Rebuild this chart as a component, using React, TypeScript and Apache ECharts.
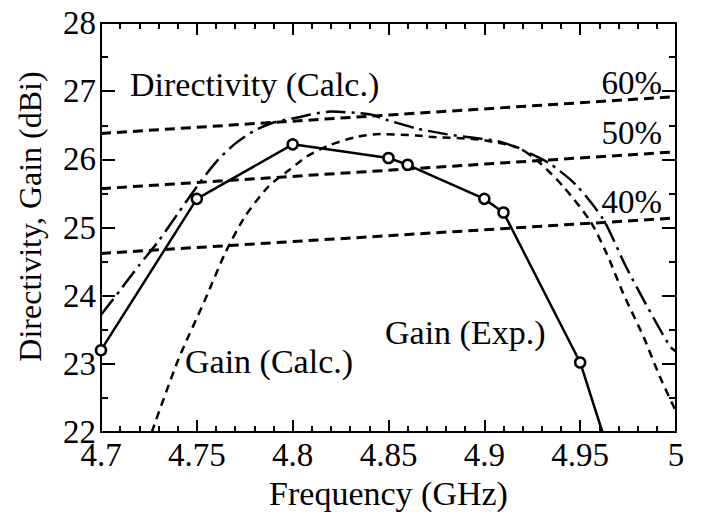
import React, { useEffect, useRef } from "react";
import * as echarts from "echarts";

const xTicks = [4.7, 4.75, 4.8, 4.85, 4.9, 4.95, 5];
const yTicks = [22, 23, 24, 25, 26, 27, 28];

// Gain (Exp.) measured points
const gainExpFreq = [4.7, 4.75, 4.8, 4.85, 4.86, 4.9, 4.91, 4.95, 4.9616];
const gainExpVal = [23.2, 25.42, 26.22, 26.02, 25.92, 25.42, 25.22, 23.02, 22.0];
const gainExpMarked = [true, true, true, true, true, true, true, true, false];

// Gain (Calc.)
const gainCalcFreq = [4.7265, 4.7403, 4.7543, 4.7647, 4.7751, 4.7873, 4.7985, 4.8073, 4.8195, 4.8334, 4.8456, 4.8647, 4.8717, 4.894, 4.9, 4.9169, 4.9273, 4.9412, 4.9551, 4.9638, 4.9725, 4.983, 4.9916, 5.0];
const gainCalcVal = [22.0, 23.06, 23.94, 24.62, 25.16, 25.6, 25.85, 26.04, 26.21, 26.33, 26.37, 26.35, 26.33, 26.3, 26.28, 26.18, 25.99, 25.6, 25.1, 24.62, 24.03, 23.4, 22.81, 22.3];

// Directivity (Calc.)
const dirFreq = [4.7, 4.71, 4.72, 4.73, 4.74, 4.75, 4.76, 4.77, 4.78, 4.79, 4.8, 4.82, 4.84, 4.85, 4.865, 4.88, 4.89, 4.908, 4.922, 4.934, 4.948, 4.962, 4.974, 4.985, 4.997, 5.0];
const dirVal = [23.72, 24.08, 24.45, 24.8, 25.2, 25.6, 25.96, 26.23, 26.42, 26.54, 26.6, 26.7, 26.66, 26.57, 26.45, 26.37, 26.33, 26.26, 26.11, 25.94, 25.62, 25.12, 24.42, 23.84, 23.25, 23.18];

// Efficiency lines
const effLabels = ["60%", "50%", "40%"];
const effFreq = [4.7, 5.0];
const eff60 = [26.38, 26.92];
const eff50 = [25.57, 26.11];
const eff40 = [24.62, 25.14];

const FONT = '"Liberation Serif", "Times New Roman", serif';

function pairs(xs: number[], ys: number[]) {
  return xs.map((x, i) => [x, ys[i]]);
}

export default function App() {
  const ref = useRef<HTMLDivElement>(null);
  useEffect(() => {
    const chart = echarts.init(ref.current!, null, { renderer: "svg" });
    const fmt = (ticks: number[]) => (v: number) => {
      const t = ticks.find((t) => Math.abs(t - v) < 1e-6);
      return t === undefined ? "" : String(t);
    };
    const axisLine = { show: true, onZero: false, lineStyle: { color: "#000", width: 2 } };
    const xCommon = {
      type: "value",
      min: xTicks[0],
      max: xTicks[xTicks.length - 1],
      interval: 0.05,
      axisLine,
      axisTick: { show: true, inside: true, length: 12, lineStyle: { color: "#000", width: 2 } },
      minorTick: { show: true, splitNumber: 5, length: 6, lineStyle: { color: "#000", width: 2 } },
      splitLine: { show: false },
      minorSplitLine: { show: false },
    };
    const yCommon = {
      type: "value",
      min: yTicks[0],
      max: yTicks[yTicks.length - 1],
      interval: 1,
      axisLine,
      axisTick: { show: true, inside: true, length: 14, lineStyle: { color: "#000", width: 2 } },
      minorTick: { show: true, splitNumber: 2, length: 7, lineStyle: { color: "#000", width: 2 } },
      splitLine: { show: false },
      minorSplitLine: { show: false },
    };
    const effSeries = [eff60, eff50, eff40].map((vals, i) => ({
      type: "line",
      name: effLabels[i],
      data: pairs(effFreq, vals),
      symbol: "none",
      lineStyle: { color: "#000", width: 3, type: [10, 6] },
      z: 2,
    }));
    const option = {
      animation: false,
      backgroundColor: "#fff",
      grid: { left: 101, right: 26, top: 23, bottom: 85, containLabel: false },
      xAxis: [
        {
          ...xCommon,
          position: "bottom",
          axisLabel: { fontFamily: FONT, fontSize: 33, lineHeight: 24, color: "#000", margin: 11, formatter: fmt(xTicks) },
          name: "Frequency (GHz)",
          nameLocation: "middle",
          nameGap: 43,
          nameTextStyle: { fontFamily: FONT, fontSize: 34, color: "#000" },
        },
        { ...xCommon, position: "top", axisLabel: { show: false } },
      ],
      yAxis: [
        {
          ...yCommon,
          position: "left",
          axisLabel: { fontFamily: FONT, fontSize: 33, lineHeight: 24, color: "#000", margin: 5, formatter: fmt(yTicks) },
          name: "Directivity, Gain (dBi)",
          nameLocation: "middle",
          nameGap: 55,
          nameTextStyle: { fontFamily: FONT, fontSize: 32, color: "#000", padding: [0, 0, 0, 22] },
        },
        { ...yCommon, position: "right", axisLabel: { show: false } },
      ],
      graphic: [
        { type: "text", x: 130, y: 84.5, style: { text: "Directivity (Calc.)", fontFamily: FONT, fontSize: 34, fill: "#000", align: "left", verticalAlign: "middle" } },
        { type: "text", x: 185, y: 361, style: { text: "Gain (Calc.)", fontFamily: FONT, fontSize: 34, fill: "#000", align: "left", verticalAlign: "middle" } },
        { type: "text", x: 385, y: 332.5, style: { text: "Gain (Exp.)", fontFamily: FONT, fontSize: 34, fill: "#000", align: "left", verticalAlign: "middle" } },
        { type: "text", x: 662, y: 82.5, style: { text: effLabels[0], fontFamily: FONT, fontSize: 33, fill: "#000", align: "right", verticalAlign: "middle" } },
        { type: "text", x: 662, y: 133, style: { text: effLabels[1], fontFamily: FONT, fontSize: 33, fill: "#000", align: "right", verticalAlign: "middle" } },
        { type: "text", x: 662, y: 201.5, style: { text: effLabels[2], fontFamily: FONT, fontSize: 33, fill: "#000", align: "right", verticalAlign: "middle" } },
      ],
      series: [
        ...effSeries,
        {
          type: "line",
          name: "Gain (Calc.)",
          data: pairs(gainCalcFreq, gainCalcVal),
          symbol: "none",
          smooth: 0.25,
          lineStyle: { color: "#000", width: 2.5, type: [8, 6] },
          z: 3,
        },
        {
          type: "line",
          name: "Directivity (Calc.)",
          data: pairs(dirFreq, dirVal),
          symbol: "none",
          smooth: 0.25,
          lineStyle: { color: "#000", width: 2.5, type: [20, 6, 3, 6] },
          z: 3,
        },
        {
          type: "line",
          name: "Gain (Exp.)",
          data: gainExpFreq.map((f, i) =>
            gainExpMarked[i] ? { value: [f, gainExpVal[i]] } : { value: [f, gainExpVal[i]], symbol: "none" }
          ),
          symbol: "circle",
          symbolSize: 10,
          showAllSymbol: true,
          itemStyle: { color: "#fff", borderColor: "#000", borderWidth: 2.5 },
          lineStyle: { color: "#000", width: 2.5 },
          z: 5,
        },
      ],
    };
    chart.setOption(option as any);
    return () => chart.dispose();
  }, []);
  return (
    <div
      ref={ref}
      style={{ position: "fixed", left: 0, top: 0, width: 702, height: 517, background: "#fff" }}
    />
  );
}
